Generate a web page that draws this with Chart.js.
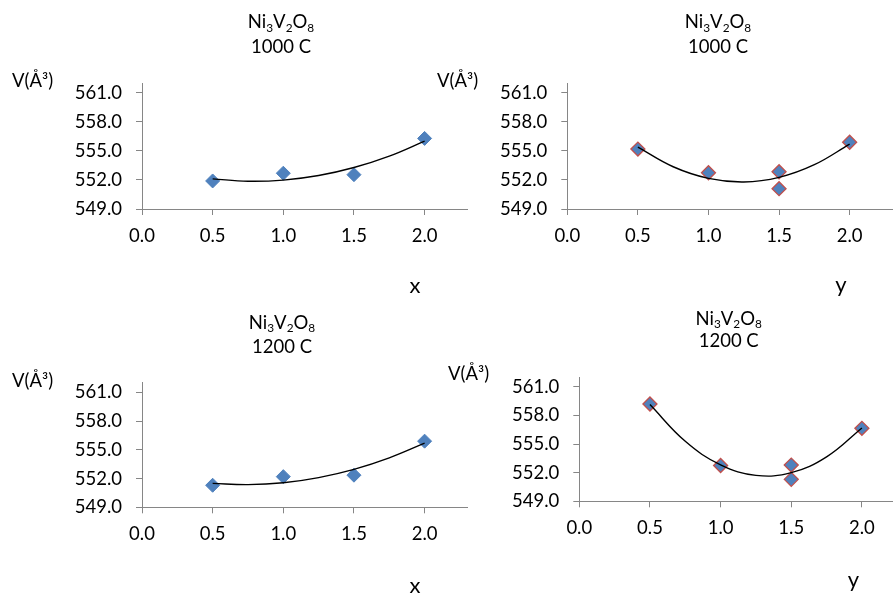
<!DOCTYPE html>
<html><head><meta charset="utf-8">
<script src="https://cdn.jsdelivr.net/npm/chart.js@4/dist/chart.umd.min.js"></script>
<style>
html,body{margin:0;padding:0;background:#fff;overflow:hidden;width:893px;height:596px;position:relative;}
canvas{position:absolute;}
</style></head><body>
<canvas id="c1" width="485" height="300" style="left:0px;top:0px"></canvas>
<canvas id="c2" width="480" height="300" style="left:430px;top:0px"></canvas>
<canvas id="c3" width="485" height="296" style="left:0px;top:300px"></canvas>
<canvas id="c4" width="495" height="296" style="left:430px;top:300px"></canvas>
<script>
// ---- data ----
const xComp = [0.5, 1.0, 1.5, 2.0];                 // x composition
const yComp = [0.5, 1.0, 1.5, 1.5, 2.0];            // y composition
const v1000x = [551.9, 552.7, 552.55, 556.3];
const v1000y = [555.2, 552.75, 552.85, 551.1, 555.9];
const v1200x = [551.3, 552.2, 552.35, 555.9];
const v1200y = [559.2, 552.75, 552.8, 551.3, 556.65];
// trend-line (2nd order polynomial)
const trendPos = [0.5, 0.75, 1.0, 1.25, 1.5, 1.75, 2.0];
const trend1000x = [552.12, 551.87, 551.99, 552.46, 553.29, 554.47, 556.02];
const trend1000y = [555.40, 553.37, 552.17, 551.80, 552.27, 553.58, 555.71];
const trend1200x = [551.50, 551.37, 551.56, 552.10, 552.96, 554.16, 555.69];
const trend1200y = [559.14, 555.29, 552.82, 551.72, 552.00, 553.66, 556.69];
const xTicks = [0.0, 0.5, 1.0, 1.5, 2.0];
const yTicks = [549.0, 552.0, 555.0, 558.0, 561.0];
const titleFormula = [['Ni',0],['3',1],['V',0],['2',1],['O',0],['8',1]];
const temps = ['1000 C', '1000 C', '1200 C', '1200 C'];
const axisNames = ['x', 'y', 'x', 'y'];
const vLabel = 'V(Å³)';

const FONT = 'Lato';
const TXT = '#000000';
const AXIS = '#868686';
const BLUE = '#4F81BD';
const RED = '#C0504D';

function makeText(items){
  return {
    id: 'richText',
    afterDraw(chart){
      const ctx = chart.ctx;
      items.forEach(it => {
        const size = it.size;
        ctx.save();
        ctx.fillStyle = TXT;
        ctx.textBaseline = 'alphabetic';
        ctx.textAlign = 'left';
        let w = 0;
        const m = it.parts.map(p => {
          const s = p[1] ? size * 0.64 : size;
          ctx.font = s + 'px ' + FONT;
          const mw = ctx.measureText(p[0]).width;
          w += mw;
          return {t: p[0], sub: p[1], s, mw};
        });
        let x = it.align === 'left' ? it.x : it.x - w / 2;
        m.forEach(q => {
          ctx.font = q.s + 'px ' + FONT;
          ctx.fillText(q.t, x, it.y + (q.sub ? size * 0.2 : 0));
          x += q.mw;
        });
        ctx.restore();
      });
    }
  };
}

function makeChart(id, cfg){
  const canvas = document.getElementById(id);
  const W = canvas.width, H = canvas.height;
  const tickFont = {family: FONT, size: 18.5};
  new Chart(canvas, {
    type: 'scatter',
    data: {datasets: [
      {data: trendPos.map((x, i) => ({x, y: cfg.trend[i]})), showLine: true, borderColor: '#000',
       borderWidth: 1.4, pointRadius: 0, tension: 0.4, fill: false},
      {data: cfg.px.map((x, i) => ({x, y: cfg.py[i]})), showLine: false, pointStyle: 'rectRot',
       pointRadius: 7, pointBackgroundColor: BLUE, pointBorderColor: cfg.edge, pointBorderWidth: cfg.edgeW}
    ]},
    options: {
      responsive: false, animation: false, events: [],
      layout: {padding: {left: 0, top: cfg.plotT, right: W - cfg.plotR, bottom: 0}},
      plugins: {legend: {display: false}, tooltip: {enabled: false}},
      scales: {
        x: {type: 'linear', min: 0, max: 2.3,
          afterFit(s){ s.height = H - cfg.plotB; },
          afterBuildTicks(s){ s.ticks = xTicks.map(v => ({value: v})); },
          ticks: {callback: v => Number(v).toFixed(1), font: tickFont, color: TXT, padding: 10, maxRotation: 0, autoSkip: false},
          grid: {drawOnChartArea: false, drawTicks: true, tickLength: 6, color: AXIS},
          border: {color: AXIS, width: 1}},
        y: {type: 'linear', min: 549, max: 562,
          afterFit(s){ s.width = cfg.plotL; },
          afterBuildTicks(s){ s.ticks = yTicks.map(v => ({value: v})); },
          ticks: {callback: v => Number(v).toFixed(1), font: tickFont, color: TXT, padding: 14, autoSkip: false},
          grid: {drawOnChartArea: false, drawTicks: true, tickLength: 6, color: AXIS},
          border: {color: AXIS, width: 1}}
      }
    },
    plugins: [makeText([
      {parts: titleFormula, x: cfg.tx, y: cfg.ty1, size: 18.5},
      {parts: [[cfg.temp, 0]], x: cfg.tx, y: cfg.ty2, size: 18.5},
      {parts: [[vLabel, 0]], x: cfg.vx, y: cfg.vy, size: 18.5, align: 'left'},
      {parts: [[cfg.axisName, 0]], x: cfg.ax, y: cfg.ay, size: 22}
    ])]
  });
}

makeChart('c1', {px: xComp, py: v1000x, trend: trend1000x, edge: BLUE, edgeW: 1,
  plotL: 142, plotT: 83.3, plotR: 467, plotB: 209,
  tx: 281, ty1: 28, ty2: 53, temp: temps[0], vx: 12, vy: 87, axisName: axisNames[0], ax: 415, ay: 293});
makeChart('c2', {px: yComp, py: v1000y, trend: trend1000y, edge: RED, edgeW: 1.3,
  plotL: 137.3, plotT: 83.3, plotR: 462, plotB: 209,
  tx: 288, ty1: 28, ty2: 53, temp: temps[1], vx: 7, vy: 87, axisName: axisNames[1], ax: 411, ay: 292});
makeChart('c3', {px: xComp, py: v1200x, trend: trend1200x, edge: BLUE, edgeW: 1,
  plotL: 142, plotT: 82.7, plotR: 467, plotB: 207.3,
  tx: 282, ty1: 28.5, ty2: 52.5, temp: temps[2], vx: 12, vy: 87, axisName: axisNames[2], ax: 415, ay: 293});
makeChart('c4', {px: yComp, py: v1200y, trend: trend1200y, edge: RED, edgeW: 1.3,
  plotL: 149.3, plotT: 77.3, plotR: 474.3, plotB: 201.3,
  tx: 298.7, ty1: 24.5, ty2: 47, temp: temps[3], vx: 18, vy: 80, axisName: axisNames[3], ax: 423.3, ay: 287});
</script>
</body></html>
